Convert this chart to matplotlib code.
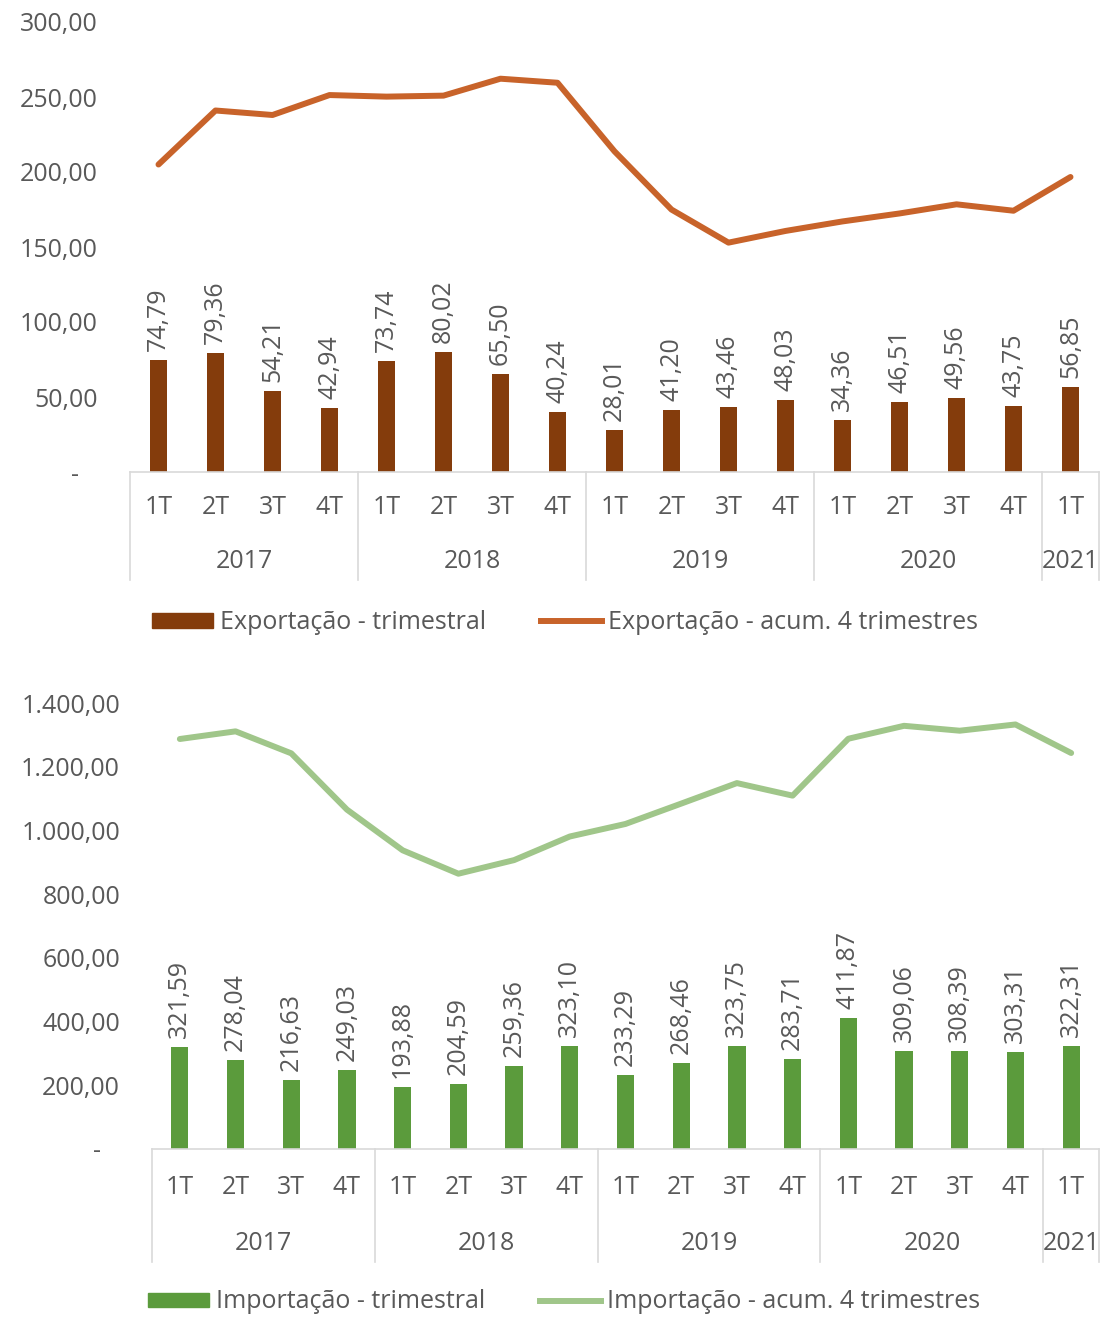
import numpy as np
import matplotlib
matplotlib.use('Agg')
import matplotlib.pyplot as plt
from matplotlib.patches import Patch
from matplotlib.lines import Line2D
from matplotlib.transforms import blended_transform_factory

plt.rcParams['font.family'] = ['Open Sans', 'DejaVu Sans']

quarters = ['1T', '2T', '3T', '4T'] * 4 + ['1T']
years = ['2017', '2018', '2019', '2020', '2021']
year_sizes = [4, 4, 4, 4, 1]

exp_tri = [74.79, 79.36, 54.21, 42.94, 73.74, 80.02, 65.50, 40.24, 28.01,
           41.20, 43.46, 48.03, 34.36, 46.51, 49.56, 43.75, 56.85]
exp_acum = [205.0, 241.0, 238.0, 251.30, 250.25, 250.91, 262.20, 259.50,
            213.77, 174.95, 152.91, 160.70, 167.05, 172.36, 178.46, 174.18,
            196.67]

imp_tri = [321.59, 278.04, 216.63, 249.03, 193.88, 204.59, 259.36, 323.10,
           233.29, 268.46, 323.75, 283.71, 411.87, 309.06, 308.39, 303.31,
           322.31]
imp_acum = [1287.0, 1311.0, 1242.0, 1065.29, 937.58, 864.13, 906.86, 980.93,
            1020.34, 1084.21, 1148.60, 1109.21, 1287.79, 1328.39, 1313.03,
            1332.63, 1243.07]

W, H = 1103, 1317
GREY = '#595959'
FS = 18


def br(v, nd=2):
    # brazilian number format: 1.400,00
    s = f'{v:,.{nd}f}'
    return s.replace(',', '#').replace('.', ',').replace('#', '.')


def panel(rect, bars, line, bar_color, line_color, ymax, ystep,
          bar_label, line_label, q_off, y_off, sep_len, legend_y, legend_x):
    ax = fig.add_axes([rect[0] / W, 1 - rect[1] / H, rect[2] / W, rect[3] / H])
    x = np.arange(len(bars))
    ax.bar(x, bars, width=0.31, color=bar_color, zorder=2)
    ax.plot(x, line, color=line_color, lw=4.3, solid_joinstyle='round',
            solid_capstyle='round', zorder=3)
    for xi, v in zip(x, bars):
        ax.annotate(br(v), (xi, v), xytext=(0, 9), textcoords='offset pixels',
                    rotation=90, ha='center', va='bottom', color=GREY,
                    fontsize=FS)

    ax.set_xlim(-0.5, len(bars) - 0.5)
    ax.set_ylim(0, ymax)
    ticks = np.arange(0, ymax + 1, ystep)
    ax.set_yticks(ticks)
    ax.set_yticklabels(['-   ' if t == 0 else br(t) for t in ticks])
    ax.tick_params(axis='y', length=0, pad=23, labelsize=FS, labelcolor=GREY)
    ax.set_xticks([])
    for s in ['top', 'right', 'left']:
        ax.spines[s].set_visible(False)
    ax.spines['bottom'].set_color('#D9D9D9')
    ax.spines['bottom'].set_linewidth(1.2)

    # two-level category axis
    tr = blended_transform_factory(ax.transData, ax.transAxes)
    for xi, q in zip(x, quarters):
        ax.annotate(q, (xi, 0), xycoords=tr, xytext=(0, -q_off),
                    textcoords='offset pixels', ha='center', va='center',
                    color=GREY, fontsize=FS)
    edges = np.concatenate([[0], np.cumsum(year_sizes)]) - 0.5
    for e in edges:
        ax.plot([e, e], [0, -sep_len / rect[3]], transform=tr, color='#D9D9D9',
                lw=1.2, clip_on=False)
    for a, b, yr in zip(edges[:-1], edges[1:], years):
        ax.annotate(yr, ((a + b) / 2, 0), xycoords=tr, xytext=(0, -y_off),
                    textcoords='offset pixels', ha='center', va='center',
                    color=GREY, fontsize=FS)

    handles = [Patch(color=bar_color),
               Line2D([], [], color=line_color, lw=4.3)]
    leg = fig.legend(handles, [bar_label, line_label], ncol=2, frameon=False,
                     loc='center left', bbox_to_anchor=(legend_x / W, 1 - legend_y / H),
                     fontsize=FS, handlelength=2.45, handleheight=0.5,
                     handletextpad=0.25, columnspacing=2.2, borderpad=0,
                     borderaxespad=0)
    for t in leg.get_texts():
        t.set_color(GREY)
    return ax


fig = plt.figure(figsize=(W / 100, H / 100), dpi=100)

panel((130, 472, 969, 450), exp_tri, exp_acum, '#843C0C', '#C8632A', 300, 50,
      'Exportação - trimestral', 'Exportação - acum. 4 trimestres',
      35, 90, 108, 623, 152)

panel((152, 1149, 947, 446), imp_tri, imp_acum, '#5B9B3C', '#A0C68A', 1400, 200,
      'Importação - trimestral', 'Importação - acum. 4 trimestres',
      39, 94, 113, 1302, 148)

fig.savefig('out.png', dpi=100)
